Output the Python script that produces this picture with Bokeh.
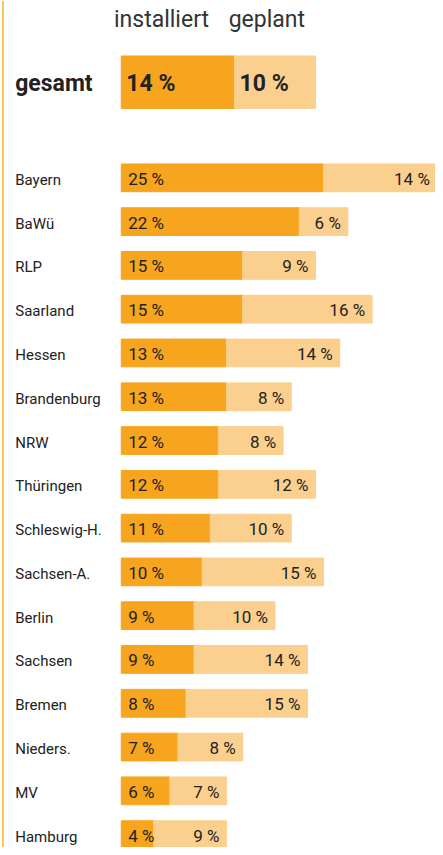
from bokeh.plotting import figure
from bokeh.models import ColumnDataSource, Range1d, Span
from bokeh.core.properties import value
from bokeh.embed import file_html
from bokeh.resources import INLINE

states = ["Bayern", "BaWü", "RLP", "Saarland", "Hessen", "Brandenburg", "NRW",
          "Thüringen", "Schleswig-H.", "Sachsen-A.", "Berlin", "Sachsen",
          "Bremen", "Nieders.", "MV", "Hamburg"]
installiert = [25, 22, 15, 15, 13, 13, 12, 12, 11, 10, 9, 9, 8, 7, 6, 4]
geplant = [14, 6, 9, 16, 14, 8, 8, 12, 10, 15, 10, 14, 15, 8, 7, 9]
gesamt_label = "gesamt"
gesamt_inst = 14
gesamt_plan = 10
header_labels = ["installiert", "geplant"]

C_INST = "#F7A41E"
C_PLAN = "#FBCF8E"
C_TEXT = "#222222"
FONT = value("Roboto")

W, H = 435, 847
SX = W / 443
SY = H / 855
PX = 8.24 * SX        # pixels per percent
X0 = 123 * SX         # pixel where bars start
ROW = 44.2 * SY       # pixels per row
Y0 = 179 * SY         # pixel of first row centre

x_start = -X0 / PX
x_end = (W - X0) / PX
y_top = -Y0 / ROW
y_bot = (H - Y0) / ROW

p = figure(width=W, height=H, output_backend="svg", toolbar_location=None,
           x_range=Range1d(x_start, x_end), y_range=Range1d(y_bot, y_top),
           min_border=0)
p.axis.visible = False
p.grid.visible = False
p.outline_line_color = None
p.background_fill_color = "white"

ys = list(range(len(states)))
ends = [a + b for a, b in zip(installiert, geplant)]
src = ColumnDataSource(dict(y=ys, name=states, inst=installiert, plan=geplant,
                            end=ends,
                            inst_lbl=[f"{v} %" for v in installiert],
                            plan_lbl=[f"{v} %" for v in geplant]))

bh = 28 * SY / ROW
p.hbar(y="y", left=0, right="inst", height=bh, color=C_INST, source=src)
p.hbar(y="y", left="inst", right="end", height=bh, color=C_PLAN, source=src)

lbl_off = -(123 - 15) * SX
p.text(x=0, y="y", text="name", source=src, x_offset=lbl_off, text_align="left",
       text_baseline="middle", text_font=FONT, text_font_size="15px",
       text_color=C_TEXT, y_offset=2)
p.text(x=0, y="y", text="inst_lbl", source=src, x_offset=7, text_align="left",
       text_baseline="middle", text_font=FONT, text_font_size="17px",
       text_color=C_TEXT, y_offset=1)
p.text(x="end", y="y", text="plan_lbl", source=src, x_offset=-7,
       text_align="right", text_baseline="middle", text_font=FONT,
       text_font_size="17px", text_color=C_TEXT, y_offset=1)

# gesamt row
gy = (82.5 * SY - Y0) / ROW
gsrc = ColumnDataSource(dict(y=[gy], inst=[gesamt_inst],
                             end=[gesamt_inst + gesamt_plan]))
gh = 53 * SY / ROW
p.hbar(y="y", left=0, right="inst", height=gh, color=C_INST, source=gsrc)
p.hbar(y="y", left="inst", right="end", height=gh, color=C_PLAN, source=gsrc)
p.text(x=[0], y=[gy], text=[gesamt_label], x_offset=lbl_off, text_align="left",
       text_baseline="middle", text_font=FONT, text_font_size="23px",
       text_font_style="bold", text_color=C_TEXT, y_offset=1)
p.text(x=[0, gesamt_inst], y=[gy, gy],
       text=[f"{gesamt_inst} %", f"{gesamt_plan} %"], x_offset=5,
       text_align="left", text_baseline="middle", text_font=FONT,
       text_font_size="23px", text_font_style="bold", text_color=C_TEXT,
       y_offset=1)

# header
hy = (19 * SY - Y0) / ROW
p.text(x=[gesamt_inst], y=[hy], text=[header_labels[0]], x_offset=-26 * SX,
       text_align="right", text_baseline="middle", text_font=FONT,
       text_font_size="23px", text_color="#333333")
p.text(x=[gesamt_inst], y=[hy], text=[header_labels[1]], x_offset=-6 * SX,
       text_align="left", text_baseline="middle", text_font=FONT,
       text_font_size="23px", text_color="#333333")

p.add_layout(Span(location=x_start + 2.5 / PX, dimension="height",
                  line_color="#F9C55A", line_width=2))

open("out.html", "w").write(file_html(p, INLINE))
